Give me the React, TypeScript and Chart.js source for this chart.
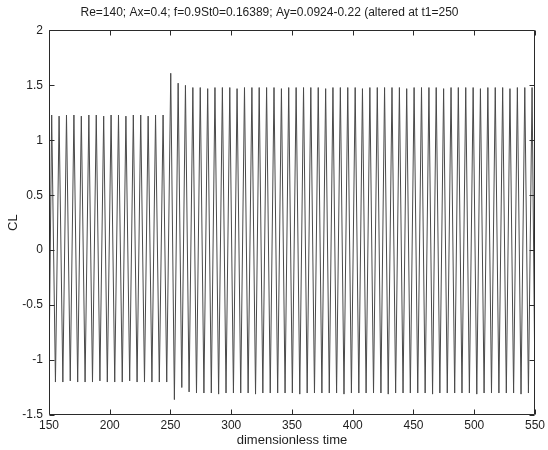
import { useEffect, useRef } from "react";
import { Chart, registerables } from "chart.js";

Chart.register(...registerables);

const chartTitle = "Re=140; Ax=0.4; f=0.9St0=0.16389; Ay=0.0924-0.22 (altered at t1=250";
const xTitle = "dimensionless time";
const yTitle = "CL";
const xTickValues = [150, 200, 250, 300, 350, 400, 450, 500, 550];
const yTickValues = [-1.5, -1, -0.5, 0, 0.5, 1, 1.5, 2];

// Extrema of the lift coefficient trace (time, CL)
const timeValues = [
  150, 152.2, 155.3, 158.3, 161.4, 164.4, 167.5, 170.5, 173.6, 176.6, 179.7,
  182.8, 185.8, 188.9, 191.9, 195.0, 198.0, 201.1, 204.1, 207.2, 210.3,
  213.3, 216.4, 219.4, 222.5, 225.5, 228.6, 231.6, 234.7, 237.7, 240.8,
  243.9, 246.9,
  250.2, 253.2, 256.3, 259.3, 262.3, 265.3, 268.4, 271.4, 274.5, 277.5,
  280.6, 283.6, 286.6, 289.6, 292.7, 295.7, 298.8, 301.8, 304.8, 307.8,
  310.9, 313.9, 317.0, 320.0, 323.0, 326.0, 329.1, 332.1, 335.2, 338.2,
  341.3, 344.3, 347.3, 350.3, 353.4, 356.4, 359.5, 362.5, 365.5, 368.5,
  371.6, 374.6, 377.7, 380.7, 383.7, 386.7, 389.8, 392.8, 395.9, 398.9,
  402.0, 405.0, 408.0, 411.0, 414.1, 417.1, 420.2, 423.2, 426.2, 429.2,
  432.3, 435.3, 438.4, 441.4, 444.4, 447.4, 450.5, 453.5, 456.6, 459.6,
  462.7, 465.7, 468.7, 471.7, 474.8, 477.8, 480.9, 483.9, 486.9, 489.9,
  493.0, 496.0, 499.1, 502.1, 505.1, 508.1, 511.2, 514.2, 517.3, 520.3,
  523.4, 526.4, 529.4, 532.4, 535.5, 538.5, 541.6, 544.6, 547.6, 550,
];

const clValues = [
  -1.1,
  1.23, -1.2, 1.22, -1.2, 1.23, -1.19, 1.23, -1.2, 1.22, -1.2,
  1.23, -1.2, 1.23, -1.19, 1.22, -1.2, 1.23, -1.2, 1.23, -1.2,
  1.22, -1.19, 1.23, -1.2, 1.23, -1.2, 1.22, -1.2, 1.23, -1.2,
  1.23, -1.2,
  1.61, -1.36, 1.52, -1.25, 1.5, -1.29,
  1.48, -1.3, 1.48, -1.3, 1.47, -1.3, 1.48, -1.31, 1.48, -1.3,
  1.48, -1.3, 1.47, -1.3, 1.48, -1.3, 1.48, -1.31, 1.48, -1.3,
  1.48, -1.3, 1.48, -1.3, 1.47, -1.3, 1.48, -1.3, 1.48, -1.31,
  1.48, -1.3, 1.48, -1.3, 1.48, -1.3, 1.47, -1.3, 1.48, -1.3,
  1.48, -1.31, 1.48, -1.3, 1.48, -1.3, 1.47, -1.3, 1.48, -1.3,
  1.48, -1.3, 1.48, -1.31, 1.48, -1.3, 1.48, -1.3, 1.47, -1.3,
  1.48, -1.3, 1.48, -1.3, 1.48, -1.31, 1.48, -1.3, 1.47, -1.3,
  1.48, -1.3, 1.48, -1.3, 1.48, -1.3, 1.48, -1.31, 1.47, -1.3,
  1.48, -1.3, 1.48, -1.3, 1.48, -1.3, 1.47, -1.3, 1.48, -1.31,
  1.48, -1.3, 1.48, -1.3,
  1.48, -0.95,
];

const FONT = "'Liberation Sans', Arial, Helvetica, sans-serif";
const TEXT = "#1e1e1e";

const frameTicks = {
  id: "frameTicks",
  afterDatasetsDraw(chart: any) {
    const { ctx, chartArea, scales } = chart;
    const { left, right, top, bottom } = chartArea;
    const x = scales.x;
    const y = scales.y;
    const len = 5;
    ctx.save();
    ctx.strokeStyle = "#2a2a2a";
    ctx.lineWidth = 1;
    const l = Math.round(left) + 0.5;
    const r = Math.round(right) - 0.5;
    const t = Math.round(top) + 0.5;
    const b = Math.round(bottom) - 0.5;
    ctx.beginPath();
    ctx.rect(l, t, r - l, b - t);
    for (const v of xTickValues) {
      const px = Math.round(x.getPixelForValue(v)) + 0.5;
      ctx.moveTo(px, b);
      ctx.lineTo(px, b - len);
      ctx.moveTo(px, t);
      ctx.lineTo(px, t + len);
    }
    for (const v of yTickValues) {
      const py = Math.round(y.getPixelForValue(v)) + 0.5;
      ctx.moveTo(l, py);
      ctx.lineTo(l + len, py);
      ctx.moveTo(r, py);
      ctx.lineTo(r - len, py);
    }
    ctx.stroke();
    ctx.restore();
  },
};

export default function App() {
  const canvasRef = useRef<HTMLCanvasElement | null>(null);

  useEffect(() => {
    const canvas = canvasRef.current;
    if (!canvas) return;
    const points = timeValues.map((t, i) => ({ x: t, y: clValues[i] }));
    const chart = new Chart(canvas, {
      type: "line",
      data: {
        datasets: [
          {
            label: yTitle,
            data: points,
            borderColor: "#4a4a4a",
            borderWidth: 1,
            pointRadius: 0,
            tension: 0,
            fill: false,
          },
        ],
      },
      options: {
        animation: false,
        responsive: false,
        maintainAspectRatio: false,
        layout: { padding: { left: 0, right: 9, top: 0, bottom: 0 } },
        plugins: {
          legend: { display: false },
          tooltip: { enabled: false },
          title: {
            display: true,
            text: chartTitle,
            color: TEXT,
            font: { family: FONT, size: 12, weight: "normal" },
            padding: { top: 5, bottom: 11 },
          },
        },
        scales: {
          x: {
            type: "linear",
            min: 150,
            max: 550,
            afterBuildTicks: (scale: any) => {
              scale.ticks = xTickValues.map((v) => ({ value: v }));
            },
            afterFit: (scale: any) => {
              scale.height = 35;
            },
            ticks: {
              color: TEXT,
              font: { family: FONT, size: 12 },
              padding: 3,
              maxRotation: 0,
              autoSkip: false,
            },
            grid: { display: false, drawTicks: false },
            border: { display: false },
            title: {
              display: true,
              text: xTitle,
              color: TEXT,
              font: { family: FONT, size: 13 },
              padding: { top: 0, bottom: 2 },
            },
          },
          y: {
            type: "linear",
            min: -1.5,
            max: 2,
            afterBuildTicks: (scale: any) => {
              scale.ticks = yTickValues.map((v) => ({ value: v }));
            },
            afterFit: (scale: any) => {
              scale.width = 49;
            },
            ticks: {
              color: TEXT,
              font: { family: FONT, size: 12 },
              padding: 6,
              autoSkip: false,
              callback: (v: any) => String(v),
            },
            grid: { display: false, drawTicks: false },
            border: { display: false },
            title: {
              display: true,
              text: yTitle,
              color: TEXT,
              font: { family: FONT, size: 13 },
              padding: { top: 6, bottom: 0 },
            },
          },
        },
      },
      plugins: [frameTicks],
    });
    return () => chart.destroy();
  }, []);

  return (
    <div style={{ position: "absolute", left: 0, top: 0, width: 548, height: 450, background: "#fff" }}>
      <canvas ref={canvasRef} width={548} height={450} style={{ display: "block", width: 548, height: 450 }} />
    </div>
  );
}
